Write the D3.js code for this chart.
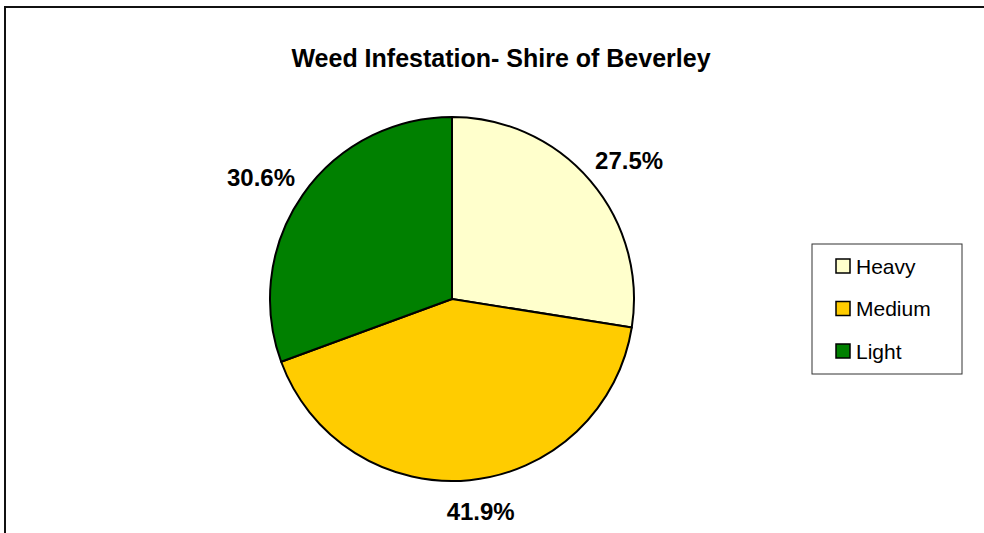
<!DOCTYPE html>
<html>
<head>
<meta charset="utf-8">
<script src="https://cdn.jsdelivr.net/npm/d3@7/dist/d3.min.js"></script>
<style>
  html, body { margin: 0; padding: 0; background: #fff; overflow: hidden; }
  svg { display: block; }
</style>
</head>
<body>
<svg id="chart" width="984" height="533"></svg>
<script>
const title = "Weed Infestation- Shire of Beverley";
const categories = ["Heavy", "Medium", "Light"];
const values = [27.5, 41.9, 30.6];
const colors = ["#FFFFCC", "#FFCC00", "#008000"];

const data = categories.map((c, i) => ({ name: c, value: values[i], color: colors[i] }));

const svg = d3.select("#chart");
const font = "'Liberation Sans', Arial, sans-serif";

// chart frame (right and bottom edges fall outside the view)
svg.append("rect")
  .attr("x", 5).attr("y", 7)
  .attr("width", 1200).attr("height", 700)
  .attr("fill", "#fff")
  .attr("stroke", "#111").attr("stroke-width", 2);

// title
svg.append("text")
  .attr("x", 501).attr("y", 67)
  .attr("text-anchor", "middle")
  .attr("font-family", font)
  .attr("font-weight", "bold")
  .attr("font-size", 25)
  .attr("fill", "#000")
  .text(title);

// pie
const cx = 452, cy = 299, radius = 182;
const pie = d3.pie().value(d => d.value).sort(null).startAngle(0).endAngle(2 * Math.PI);
const arcs = pie(data);
const arc = d3.arc().innerRadius(0).outerRadius(radius);

const g = svg.append("g").attr("transform", `translate(${cx},${cy})`);
g.selectAll("path.slice")
  .data(arcs)
  .join("path")
  .attr("class", "slice")
  .attr("d", arc)
  .attr("fill", d => d.data.color)
  .attr("stroke", "#000")
  .attr("stroke-width", 2)
  .attr("stroke-linejoin", "round");

// labels
const rx = radius * 1.28, ry = radius * 1.17;
g.selectAll("text.lbl")
  .data(arcs)
  .join("text")
  .attr("class", "lbl")
  .attr("x", d => rx * Math.sin((d.startAngle + d.endAngle) / 2) + (d.index === 1 ? 6 : 0))
  .attr("y", d => -ry * Math.cos((d.startAngle + d.endAngle) / 2))
  .attr("dy", "0.36em")
  .attr("text-anchor", "middle")
  .attr("font-family", font)
  .attr("font-weight", "bold")
  .attr("font-size", 24)
  .attr("fill", "#000")
  .text(d => d3.format(".1f")(d.data.value) + "%");

// legend
const legend = svg.append("g");
legend.append("rect")
  .attr("x", 812).attr("y", 244)
  .attr("width", 150).attr("height", 130)
  .attr("fill", "#fff")
  .attr("stroke", "#333").attr("stroke-width", 1);

const rowY = d3.scalePoint().domain(categories).range([266, 351]);
const items = legend.selectAll("g.item")
  .data(data)
  .join("g")
  .attr("class", "item")
  .attr("transform", d => `translate(0,${rowY(d.name)})`);
items.append("rect")
  .attr("x", 836).attr("y", -7)
  .attr("width", 14).attr("height", 14)
  .attr("fill", d => d.color)
  .attr("stroke", "#000").attr("stroke-width", 1.5);
items.append("text")
  .attr("x", 856).attr("y", 0)
  .attr("dy", "0.36em")
  .attr("font-family", font)
  .attr("font-size", 21)
  .attr("fill", "#000")
  .text(d => d.name);
</script>
</body>
</html>
